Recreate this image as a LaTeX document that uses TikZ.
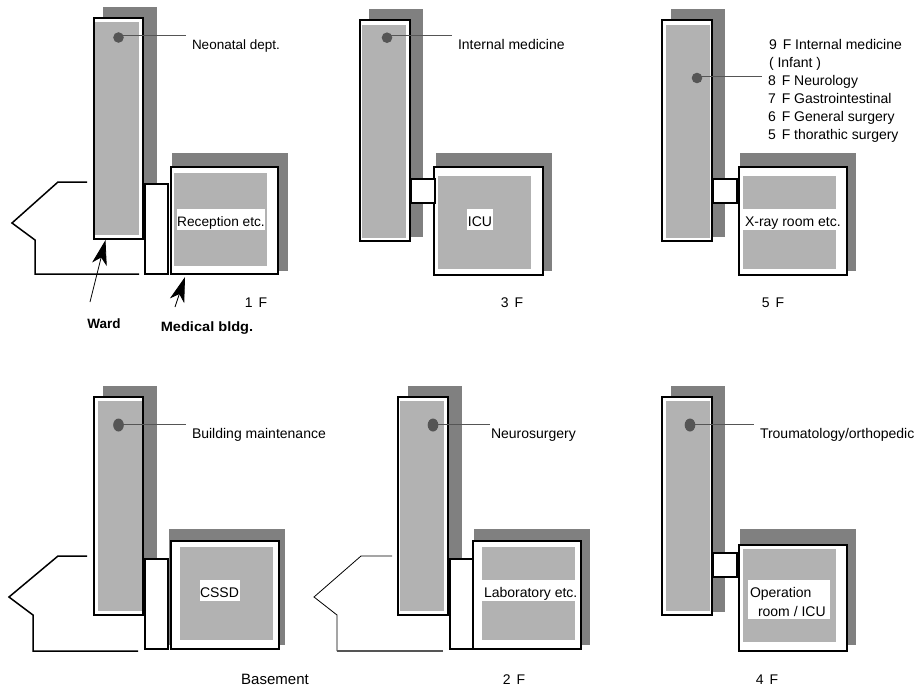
\documentclass[tikz,border=0pt]{standalone}
\usepackage{fontspec}
\setmainfont{Liberation Sans}
\usetikzlibrary{arrows.meta,shapes.geometric}
\definecolor{shadowgray}{HTML}{808080}
\definecolor{roomgray}{HTML}{B2B2B2}
\definecolor{dotgray}{HTML}{555555}
\tikzset{
  x=1pt,y=-1pt,
  base/.style={inner sep=0pt,outer sep=0pt,anchor=north west},
  shade box/.style={base,fill=shadowgray},
  wing/.style={base,draw=black,fill=white,line width=1.5pt},
  room/.style={base,fill=roomgray},
  lbl/.style={inner sep=0pt,outer sep=0pt,anchor=west,text height=10pt,text depth=0pt,font=\fontsize{14}{16}\selectfont,text=black},
  tag/.style={inner sep=0pt,outer sep=0pt,fill=white,text height=14pt,text depth=0pt,font=\fontsize{14}{16}\selectfont,text=black},
  floorlabel/.style={inner sep=0pt,outer sep=0pt,text height=10pt,text depth=0pt,font=\fontsize{14}{16}\selectfont,text=black},
  spot/.style={ellipse,inner sep=0pt,outer sep=0pt,fill=dotgray},
  leader/.style={draw=dotgray,line width=0.9pt},
  outline/.style={draw=black,line width=1.5pt,line join=miter},
  pointer/.style={line width=0.8pt,-{Stealth[length=25pt,width=15pt,inset=7pt]}},
  callout/.style={font=\bfseries\fontsize{13.5}{15}\selectfont,inner sep=0pt,outer sep=0pt,text height=10pt,text depth=0pt,text=black}
}
\newcommand{\Bx}[6]{\node[#1,minimum width=#5pt-#3pt,minimum height=#6pt-#4pt] (#2) at (#3,#4) {};}
\newcommand{\Fl}[1]{#1\hspace{6pt}F}
\begin{document}
\begin{tikzpicture}
\useasboundingbox (0,0) rectangle (922,689);

% ---------- 1 F
\Bx{shade box}{as1}{103}{7}{157}{237}
\Bx{shade box}{as2}{172}{153}{288}{271}
\Bx{wing}{aw}{94}{18}{143}{239}
\Bx{room}{ag}{95}{22}{139}{235}
\Bx{wing}{ac}{145}{184}{168}{274}
\Bx{wing}{am}{171}{167}{278}{274}
\Bx{room}{ar}{174}{173}{267}{266}
\node[tag,font=\fontsize{13.7}{16}\selectfont,minimum width=88pt,minimum height=21pt] (at) at (221,219.5) {Reception etc.};
\node[spot,minimum width=10.6pt,minimum height=10.6pt] (ad) at (118.5,37.5) {};
\node[lbl,font=\fontsize{13.5}{16}\selectfont] (al) at (192,44) {Neonatal dept.};
\coordinate (ae) at (186,35);
\draw[leader] (ae -| ad) -- (ae);
\draw[outline] (87,182) -- (58,182) -- (12,223) -- (35,240) -- (35,274) -- (139,274);
\node[floorlabel] (af) at (256,302) {\Fl{1}};
\node[callout] (aw1) at (104,323) {Ward};
\node[callout,xscale=1.08,transform shape] (am1) at (207,326) {Medical bldg.};
\coordinate (awt) at (90,302);
\coordinate (awh) at (105.5,240);
\coordinate (amt) at (175,307);
\coordinate (amh) at (185,277);
\draw[pointer] (awt) -- (awh);
\draw[pointer] (amt) -- (amh);

% ---------- 3 F
\Bx{shade box}{bs1}{369}{9}{423}{237}
\Bx{shade box}{bs2}{436}{153}{552}{271}
\Bx{wing}{bw}{360}{20}{410}{241}
\Bx{room}{bg}{362}{25}{406}{238}
\Bx{wing}{bm}{434}{167}{543}{275}
\Bx{room}{br}{438}{176}{531}{269}
\Bx{wing}{bc}{411}{179}{435}{203}
\node[tag,minimum width=26pt,minimum height=21pt] (bt) at (480,219.5) {ICU};
\node[spot,minimum width=10.6pt,minimum height=10.6pt] (bd) at (387,37.7) {};
\node[lbl] (bl) at (458,44) {Internal medicine};
\coordinate (be) at (452,35);
\draw[leader] (be -| bd) -- (be);
\node[floorlabel] (bf) at (512,302) {\Fl{3}};

% ---------- 5 F
\Bx{shade box}{cs1}{671}{9}{725}{237}
\Bx{shade box}{cs2}{740}{153}{856}{271}
\Bx{wing}{cw}{662}{20}{712}{241}
\Bx{room}{cg}{666}{25}{710}{238}
\Bx{wing}{cm}{739}{167}{847}{275}
\Bx{room}{cr1}{743}{176}{836}{209}
\Bx{room}{cr2}{743}{230}{836}{269}
\Bx{wing}{cc}{713}{179}{737}{203}
\node[lbl] (ct) at (745,221.5) {X-ray room etc.};
\node[spot,minimum width=10.6pt,minimum height=10.6pt] (cd) at (697,78) {};
\node[lbl] (cl1) at (769,44) {\Fl{9} Internal medicine};
\node[lbl] (cl2) at (769,62) {( Infant )};
\node[lbl] (cl3) at (768,80) {\Fl{8} Neurology};
\node[lbl] (cl4) at (768,98) {\Fl{7} Gastrointestinal};
\node[lbl] (cl5) at (768,116) {\Fl{6} General surgery};
\node[lbl] (cl6) at (768,134) {\Fl{5} thorathic surgery};
\coordinate (ce) at (762,76);
\draw[leader] (ce -| cd) -- (ce);
\node[floorlabel] (cf) at (773,302) {\Fl{5}};

% ---------- Basement
\Bx{shade box}{ds1}{103}{386}{157}{612}
\Bx{shade box}{ds2}{169}{529}{285}{645}
\Bx{wing}{dw}{94}{397}{143}{615}
\Bx{room}{dg}{98}{401}{142}{611}
\Bx{wing}{dc}{145}{559}{168}{649}
\Bx{wing}{dm}{171}{541}{279}{649}
\Bx{room}{dr}{180}{547}{273}{640}
\node[tag,minimum width=40pt,minimum height=21pt] (dt) at (219.5,590.5) {CSSD};
\node[spot,minimum width=10.6pt,minimum height=13pt] (dd) at (118.5,425) {};
\node[lbl] (dl) at (192,433) {Building maintenance};
\coordinate (de) at (186,424);
\draw[leader] (de -| dd) -- (de);
\draw[outline] (87,556) -- (58,556) -- (9,597) -- (33,615) -- (33,651) -- (138,651);
\node[floorlabel,font=\fontsize{15}{17}\selectfont] (df) at (275,679) {Basement};

% ---------- 2 F
\Bx{shade box}{es1}{408}{386}{462}{612}
\Bx{shade box}{es2}{474}{529}{590}{645}
\Bx{wing}{ew}{398}{397}{448}{615}
\Bx{room}{eg}{400}{401}{444}{611}
\Bx{wing}{ec}{450}{559}{473}{649}
\Bx{wing}{em}{473}{541}{581}{649}
\Bx{room}{er1}{482}{547}{575}{580}
\Bx{room}{er2}{482}{601}{575}{640}
\node[lbl] (et) at (484,592.5) {Laboratory etc.};
\node[spot,minimum width=10.6pt,minimum height=13pt] (ed) at (433,425) {};
\node[lbl] (el) at (491,433) {Neurosurgery};
\coordinate (ee) at (490,424);
\draw[leader] (ee -| ed) -- (ee);
\draw[outline,line width=0.8pt] (392,556) -- (361,556) -- (314,597) -- (337,615) -- (337,651);
\draw[draw=dotgray,line width=1.3pt] (337,651) -- (443,651);
\node[floorlabel] (ef) at (514,679) {\Fl{2}};

% ---------- 4 F
\Bx{shade box}{fs1}{671}{386}{725}{612}
\Bx{shade box}{fs2}{740}{529}{856}{645}
\Bx{wing}{fw}{662}{397}{712}{615}
\Bx{room}{fg}{666}{401}{710}{611}
\Bx{wing}{fm}{739}{545}{847}{651}
\Bx{room}{fr}{743}{549}{836}{642}
\Bx{wing}{fc}{713}{553}{737}{577}
\Bx{base,fill=white}{fb}{748}{580}{830}{619}
\node[lbl] (ft1) at (750,592) {Operation};
\node[lbl] (ft2) at (758,611) {room / ICU};
\node[spot,minimum width=10.6pt,minimum height=13pt] (fd) at (690,425) {};
\node[lbl] (fl) at (760,433) {Troumatology/orthopedic};
\coordinate (fe) at (754,424);
\draw[leader] (fe -| fd) -- (fe);
\node[floorlabel] (ff) at (767,679) {\Fl{4}};
\end{tikzpicture}
\end{document}
